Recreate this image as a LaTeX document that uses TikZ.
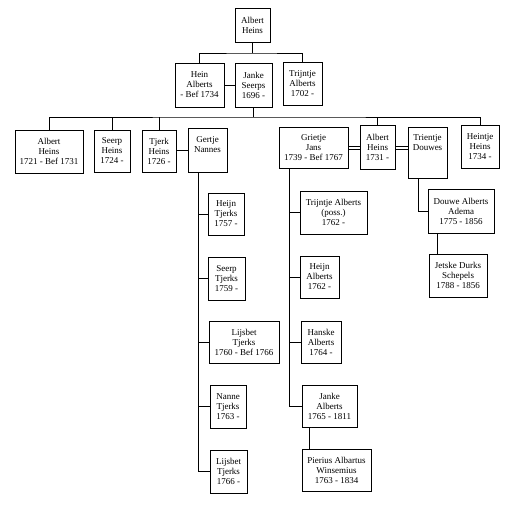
\documentclass[tikz,border=0pt]{standalone}
\usepackage{fontspec}
\setmainfont{Liberation Serif}
\usepackage{tikz}
\usetikzlibrary{calc}
\tikzset{
  person/.style={draw, line width=1pt, inner sep=0pt, align=center,
                 font=\fontsize{9}{10}\selectfont},
  box/.style 2 args={minimum width=#1pt, minimum height=#2pt},
  tree/.style={line width=0.9pt},
  spouse/.style={line width=0.9pt, double, double distance=2pt}
}

\begin{document}
\begin{tikzpicture}[x=1pt, y=-1pt]
      \useasboundingbox (0,0) rectangle (510,512);

      % Generation 1
      \node[person, box={35}{34}] (albert0) at (252.5,25) {Albert\\Heins};
      \node[person, box={49}{44}] (hein) at (199.5,85) {Hein\\Alberts\\- Bef 1734};
      \node[person, box={37}{44}] (janke) at (253.5,85) {Janke\\Seerps\\1696 -};
      \node[person, box={39}{43}] (trijntje) at (302.5,83.5) {Trijntje\\Alberts\\1702 -};

      % Generation 2
      \node[person, box={68}{43}] (albert1) at (49,151.5) {Albert\\Heins\\1721 - Bef 1731};
      \node[person, box={36}{42}] (seerp) at (112,151) {Seerp\\Heins\\1724 -};
      \node[person, box={34}{42}] (tjerk) at (159,151) {Tjerk\\Heins\\1726 -};
      \node[person, box={39}{44}] (gertje) at (207.5,150) {Gertje\\Nannes\\~};
      \node[person, box={69}{41}] (grietje) at (313.5,147.5) {Grietje\\Jans\\1739 - Bef 1767};
      \node[person, box={35}{44}] (albert2) at (377.5,147) {Albert\\Heins\\1731 -};
      \node[person, box={39}{51}] (trientje) at (427.5,152.5) {Trientje\\Douwes\\~\\~};
      \node[person, box={38}{43}] (heintje) at (480,146.5) {Heintje\\Heins\\1734 -};

      % Children of Tjerk and Gertje
      \node[person, box={36}{42}] (heijnT) at (226,214) {Heijn\\Tjerks\\1757 -};
      \node[person, box={37}{43}] (seerpT) at (226.5,278.5) {Seerp\\Tjerks\\1759 -};
      \node[person, box={70}{42}] (lijsbet1) at (244,342) {Lijsbet\\Tjerks\\1760 - Bef 1766};
      \node[person, box={36}{43}] (nanne) at (228,406.5) {Nanne\\Tjerks\\1763 -};
      \node[person, box={37}{43}] (lijsbet2) at (228.5,471.5) {Lijsbet\\Tjerks\\1766 -};

      % Children of Albert and Grietje
      \node[person, box={67}{43}] (trijntjeA) at (333.5,212.5) {Trijntje Alberts\\(poss.)\\1762 -};
      \node[person, box={39}{42}] (heijnA) at (319.5,277) {Heijn\\Alberts\\1762 -};
      \node[person, box={40}{42}] (hanske) at (321,342) {Hanske\\Alberts\\1764 -};
      \node[person, box={55}{42}] (jankeA) at (329.5,406) {Janke\\Alberts\\1765 - 1811};
      \node[person, box={69}{42}] (pierius) at (336.5,470) {Pierius Albartus\\Winsemius\\1763 - 1834};

      % Child of Albert and Trientje
      \node[person, box={66}{44}] (douwe) at (461,211) {Douwe Alberts\\Adema\\1775 - 1856};
      \node[person, box={58}{43}] (jetske) at (458,275.5) {Jetske Durks\\Schepels\\1788 - 1856};

      % Lines of descent
      \coordinate (bar1) at (252.5,53);
      \coordinate (bar2) at (253.5,117);
      \coordinate (gtrunk) at (198,172);
      \coordinate (jtrunk) at (289,168);
      \coordinate (ttrunk) at (418,178);
      \draw[tree] (albert0.south) -- (bar1);
      \draw[tree] (hein.north) |- (bar1) -| (trijntje.north);
      \draw[tree] (janke.south) -- (bar2);
      \draw[tree] (albert1.north) |- (bar2) -| (heintje.north);
      \foreach \kid in {seerp, tjerk, albert2} {
        \draw[tree] (\kid.north) -- (\kid.north |- bar2);
      }
      \foreach \kid in {heijnT, seerpT, lijsbet1, nanne, lijsbet2} {
        \draw[tree] (gtrunk) |- (\kid.west);
      }
      \foreach \kid in {trijntjeA, heijnA, hanske, jankeA} {
        \draw[tree] (jtrunk) |- (\kid.west);
      }
      \draw[tree] (ttrunk) |- (douwe.west);

      % Marriages
      \draw[spouse] ($(hein.east)+(0,1.5)$) -- ($(janke.west)+(0,1.5)$);
      \draw[spouse] ($(tjerk.east)+(0,0.5)$) -- ($(gertje.west)+(0,1.5)$);
      \draw[spouse] ($(grietje.east)+(0,0.5)$) -- ($(albert2.west)+(0,1)$);
      \draw[spouse] ($(albert2.east)+(0,1)$) -- ($(trientje.west)+(0,-4.5)$);
      \draw[spouse] ($(jankeA.south west)+(9,0)$) -- ($(pierius.north west)+(9,0)$);
      \draw[spouse] ($(douwe.south west)+(11,0)$) -- ($(jetske.north west)+(10,0)$);
    \end{tikzpicture}
\end{document}
